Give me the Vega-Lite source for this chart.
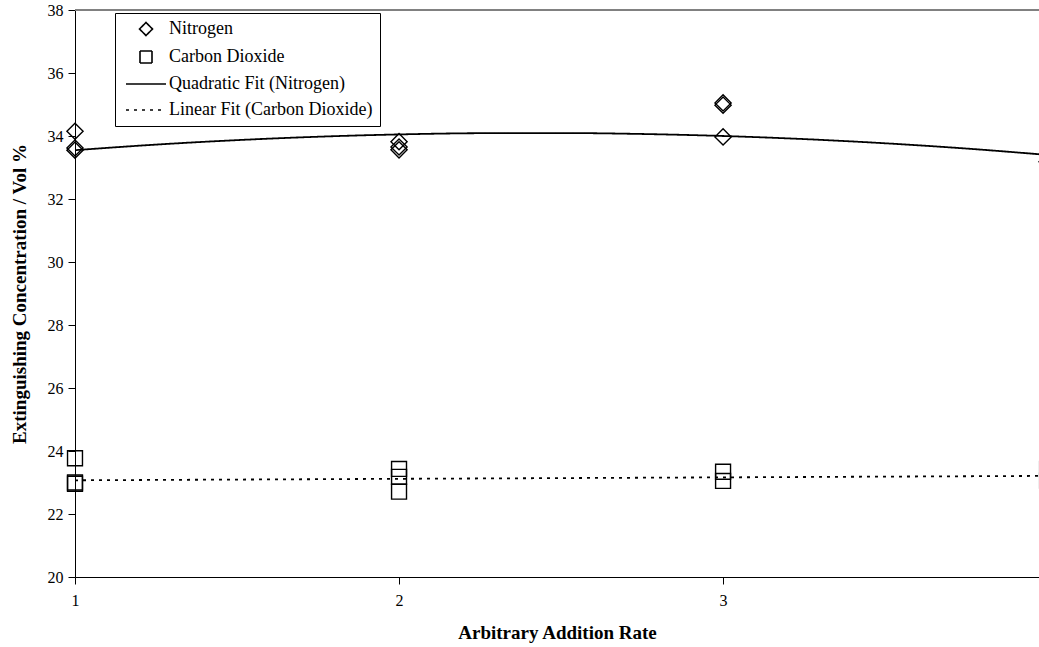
{
  "$schema": "https://vega.github.io/schema/vega-lite/v6.json",
  "width": 964,
  "height": 567,
  "autosize": {"type": "none"},
  "padding": {"left": 75, "top": 10, "right": 0, "bottom": 70},
  "background": "white",
  "config": {
    "view": {"stroke": null},
    "font": "Liberation Serif",
    "axis": {"labelFont": "Liberation Serif", "titleFont": "Liberation Serif", "labelColor": "black", "titleColor": "black", "domainColor": "black", "tickColor": "black", "grid": false},
    "legend": {"labelFont": "Liberation Serif", "labelColor": "black"}
  },
  "data": {
    "values": [
      {"x": 1, "y": 34.15, "series": "Nitrogen"},
      {"x": 1, "y": 33.62, "series": "Nitrogen"},
      {"x": 1, "y": 33.55, "series": "Nitrogen"},
      {"x": 2, "y": 33.82, "series": "Nitrogen"},
      {"x": 2, "y": 33.65, "series": "Nitrogen"},
      {"x": 2, "y": 33.56, "series": "Nitrogen"},
      {"x": 3, "y": 35.05, "series": "Nitrogen"},
      {"x": 3, "y": 34.98, "series": "Nitrogen"},
      {"x": 3, "y": 33.97, "series": "Nitrogen"},
      {"x": 4, "y": 33.18, "series": "Nitrogen"},
      {"x": 1, "y": 23.77, "series": "Carbon Dioxide"},
      {"x": 1, "y": 23.0, "series": "Carbon Dioxide"},
      {"x": 1, "y": 22.96, "series": "Carbon Dioxide"},
      {"x": 2, "y": 23.43, "series": "Carbon Dioxide"},
      {"x": 2, "y": 23.18, "series": "Carbon Dioxide"},
      {"x": 2, "y": 22.71, "series": "Carbon Dioxide"},
      {"x": 3, "y": 23.34, "series": "Carbon Dioxide"},
      {"x": 3, "y": 23.05, "series": "Carbon Dioxide"},
      {"x": 4, "y": 23.43, "series": "Carbon Dioxide"},
      {"x": 4, "y": 23.06, "series": "Carbon Dioxide"},
      {"x": 1, "y": 33.55, "series": "Quadratic Fit (Nitrogen)"},
      {"x": 1.25, "y": 33.727, "series": "Quadratic Fit (Nitrogen)"},
      {"x": 1.5, "y": 33.869, "series": "Quadratic Fit (Nitrogen)"},
      {"x": 1.75, "y": 33.977, "series": "Quadratic Fit (Nitrogen)"},
      {"x": 2, "y": 34.05, "series": "Quadratic Fit (Nitrogen)"},
      {"x": 2.25, "y": 34.089, "series": "Quadratic Fit (Nitrogen)"},
      {"x": 2.5, "y": 34.094, "series": "Quadratic Fit (Nitrogen)"},
      {"x": 2.75, "y": 34.064, "series": "Quadratic Fit (Nitrogen)"},
      {"x": 3, "y": 34.0, "series": "Quadratic Fit (Nitrogen)"},
      {"x": 3.25, "y": 33.902, "series": "Quadratic Fit (Nitrogen)"},
      {"x": 3.5, "y": 33.769, "series": "Quadratic Fit (Nitrogen)"},
      {"x": 3.75, "y": 33.602, "series": "Quadratic Fit (Nitrogen)"},
      {"x": 4, "y": 33.4, "series": "Quadratic Fit (Nitrogen)"},
      {"x": 1, "y": 23.07, "series": "Linear Fit (Carbon Dioxide)"},
      {"x": 4, "y": 23.21, "series": "Linear Fit (Carbon Dioxide)"}
    ]
  },
  "layer": [
    {
      "mark": {"type": "rule", "color": "#808080", "strokeWidth": 1},
      "encoding": {"y": {"datum": 38, "type": "quantitative", "scale": {"domain": [20, 38], "nice": false, "zero": false}}}
    },
    {
      "transform": [{"filter": {"field": "series", "oneOf": ["Quadratic Fit (Nitrogen)", "Linear Fit (Carbon Dioxide)"]}}],
      "mark": {"type": "line", "color": "black", "strokeWidth": 1.8, "interpolate": "monotone"},
      "encoding": {
        "x": {"field": "x", "type": "quantitative"},
        "y": {"field": "y", "type": "quantitative"},
        "strokeDash": {
          "field": "series", "type": "nominal",
          "scale": {"domain": ["Nitrogen", "Carbon Dioxide", "Quadratic Fit (Nitrogen)", "Linear Fit (Carbon Dioxide)"], "range": [[1, 0], [1, 0], [1, 0], [3, 5]]}
        }
      }
    },
    {
      "transform": [{"filter": {"field": "series", "oneOf": ["Nitrogen", "Carbon Dioxide"]}}],
      "mark": {"type": "point", "filled": false, "color": "black", "strokeWidth": 1.4, "size": 155, "opacity": 1},
      "encoding": {
        "x": {
          "field": "x", "type": "quantitative",
          "scale": {"domain": [1, 3.975], "nice": false, "zero": false},
          "axis": {"values": [1, 2, 3], "format": "d", "tickSize": 7, "labelPadding": 8, "labelFontSize": 16, "labelFlush": false, "title": "Arbitrary Addition Rate", "titleFontSize": 19, "titleFontWeight": "bold", "titlePadding": 15}
        },
        "y": {
          "field": "y", "type": "quantitative",
          "scale": {"domain": [20, 38], "nice": false, "zero": false},
          "axis": {"values": [20, 22, 24, 26, 28, 30, 32, 34, 36, 38], "tickSize": 7, "labelPadding": 5, "labelFontSize": 16, "title": "Extinguishing Concentration / Vol %", "titleFontSize": 19, "titleFontWeight": "bold", "titlePadding": 18}
        },
        "shape": {
          "field": "series", "type": "nominal",
          "scale": {"domain": ["Nitrogen", "Carbon Dioxide", "Quadratic Fit (Nitrogen)", "Linear Fit (Carbon Dioxide)"], "range": ["M0,-1.3L1.3,0L0,1.3L-1.3,0Z", "M-1.2,-1.2L1.2,-1.2L1.2,1.2L-1.2,1.2Z", "M-4,0L4,0", "M-4,0L4,0"]},
          "legend": {
            "title": null, "orient": "none", "legendX": 40, "legendY": 3,
            "padding": 7, "strokeColor": "black", "fillColor": "white",
            "symbolSize": 100, "symbolOffset": 15, "labelOffset": 14,
            "symbolStrokeColor": "black", "symbolStrokeWidth": 1.6,
            "labelFontSize": 18, "rowPadding": 8, "labelLimit": 400
          }
        }
      }
    }
  ]
}
